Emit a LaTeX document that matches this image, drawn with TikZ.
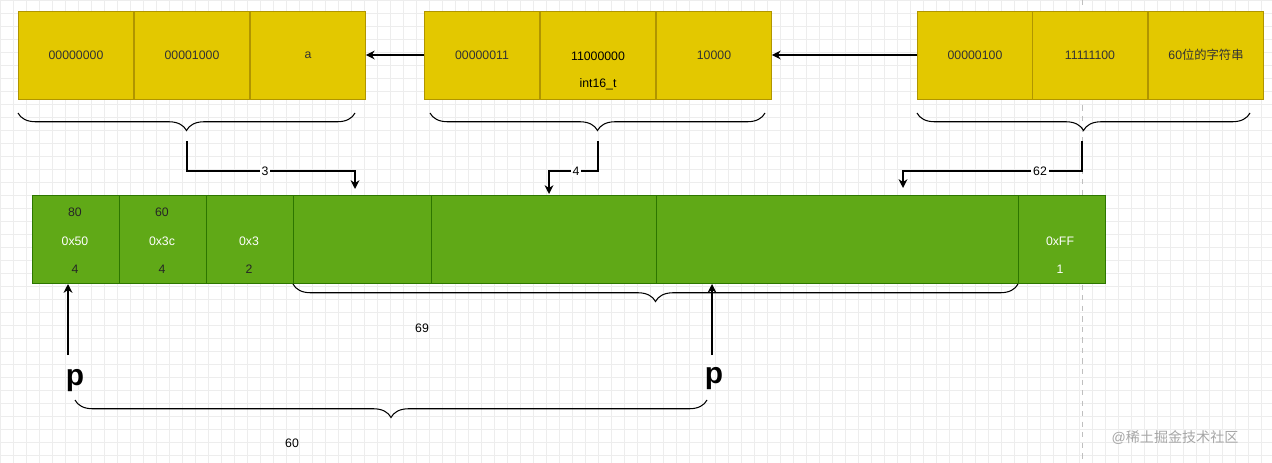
\documentclass[tikz,border=0pt]{standalone}
\usepackage{fontspec}
\setmainfont{Liberation Sans}
\newfontfamily\cjk{Noto Sans CJK SC}
\usetikzlibrary{decorations.pathreplacing,arrows.meta}
\definecolor{yel}{HTML}{E3C800}
\definecolor{yelb}{HTML}{B09500}
\definecolor{grn}{HTML}{60A917}
\definecolor{grnb}{HTML}{2D7600}
\begin{document}
\begin{tikzpicture}[x=0.02cm,y=-0.02cm,font=\fontsize{7}{8}\selectfont,
  ycell/.style={draw=yelb,fill=yel,minimum width=2.3cm,minimum height=1.76cm,inner sep=0,text=black!80},
  gcell/.style={draw=grnb,fill=grn,minimum height=1.76cm,inner sep=0},
  br/.style={decorate,decoration={brace,amplitude=0.35cm},line width=0.6pt},
  conn/.style={line width=0.9pt,-{Stealth[length=5pt,width=5pt]}},
  lab/.style={fill=white,inner sep=1pt,font=\fontsize{7}{8}\selectfont},
  bigp/.style={font=\fontsize{17}{18}\selectfont\bfseries}]
\useasboundingbox (0,0) rectangle (1272,463);
\fill[white] (0,0) rectangle (1272,463);
\foreach \x in {0,13,...,1272} \draw[black!7,line width=0.3pt] (\x,0) -- (\x,463);
\foreach \y in {0,13,...,463} \draw[black!7,line width=0.3pt] (0,\y) -- (1272,\y);
\draw[black!25,dashed,line width=0.3pt] (1082,0) -- (1082,463);
% yellow groups
\node[ycell] (a1) at (76,55) {00000000};
\node[ycell] (a2) at (192,55) {00001000};
\node[ycell] (a3) at (308,55) {a};
\node[ycell] (b1) at (482,55) {00000011};
\node[ycell,align=center] (b2) at (598,55) {};
\node at (598,56) {11000000};
\node (b2t) at (598,84) {int16\_t};
\node[ycell] (b3) at (714,55) {10000};
\node[ycell] (c1) at (975,55) {00000100};
\node[ycell] (c2) at (1090,55) {11111100};
\node[ycell] (c3) at (1206,55) {60{\cjk 位的字符串}};
\draw[conn] (b1.west) -- (a3.east);
\draw[conn] (c1.west) -- (b3.east);
% braces
\draw[br] (355,113) -- (18,113);
\draw[br] (765,113) -- (430,113);
\draw[br] (1250,113) -- (917,113);
% green
\node[gcell,minimum width=1.74cm] (g1) at (75.5,239) {};
\node[gcell,minimum width=1.74cm] (g2) at (162.5,239) {};
\node[gcell,minimum width=1.74cm] (g3) at (249.5,239) {};
\node[gcell,minimum width=2.76cm] (g4) at (362,239) {};
\node[gcell,minimum width=4.5cm] (g5) at (543.5,239) {};
\node[gcell,minimum width=7.24cm] (g6) at (837,239) {};
\node[gcell,minimum width=1.74cm] (g7) at (1061.5,239) {};
\node[text=black!85] at (75,212) {80};
\node[text=white] at (75,241) {0x50};
\node[text=black!85] at (75,269) {4};
\node[text=black!85] at (162,212) {60};
\node[text=white] at (162,241) {0x3c};
\node[text=black!85] at (162,269) {4};
\node[text=white] at (249,241) {0x3};
\node[text=black!85] at (249,269) {2};
\node[text=white] at (1060,241) {0xFF};
\node[text=white] at (1060,269) {1};
% connectors from braces
\coordinate (t1) at (187,141); \coordinate (t2) at (598,141); \coordinate (t3) at (1082,141);
\coordinate (e1) at (355,189); \coordinate (e2) at (549,194); \coordinate (e3) at (903,188);
\draw[conn] (t1) |- (e1 |- 0,171) -- (e1);
\draw[conn] (t2) |- (e2 |- 0,171) -- (e2);
\draw[conn] (t3) |- (e3 |- 0,171) -- (e3);
\node[lab] at (265,171) {3};
\node[lab] at (576,171) {4};
\node[lab] at (1040,171) {62};
% brace under green
\draw[br] (1018,284) -- (293,284);
\node at (422,328) {69};
% p pointers
\node[bigp] (p1) at (75,381) {p};
\node[bigp] (p2) at (714,379) {p};
\coordinate (h1) at (68,284); \coordinate (h2) at (712,284);
\draw[conn] (68,355) -- (h1);
\draw[conn] (712,355) -- (h2);
\draw[br] (707,400) -- (75,400);
\node at (292,443) {60};
\node[text=black!35,font=\fontsize{8}{9}\selectfont] at (1175,438) {@{\cjk 稀土掘金技术社区}};
\end{tikzpicture}
\end{document}
